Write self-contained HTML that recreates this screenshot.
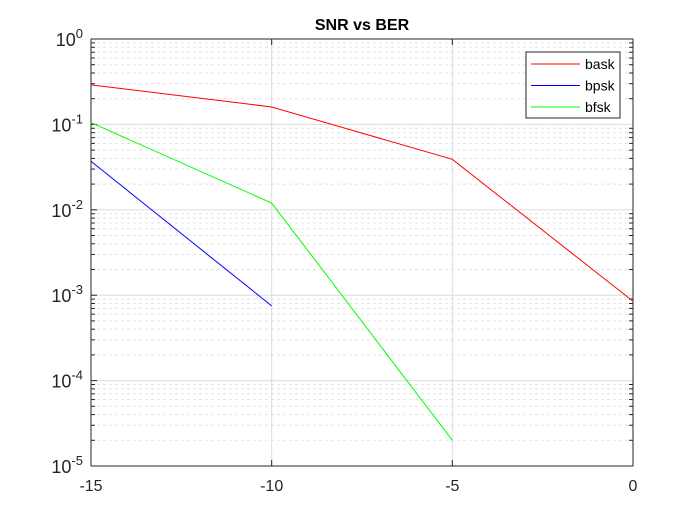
<!DOCTYPE html>
<html><head><meta charset="utf-8"><style>
body{margin:0;background:#fff;width:700px;height:525px;overflow:hidden}
svg text{font-family:"Liberation Sans",sans-serif}
</style></head><body>
<svg id="c" width="700" height="525">
<rect x="0" y="0" width="700" height="525" fill="#fff"/>
</svg>
<script>
const xs=[-15,-10,-5,0];
const bask=[0.29,0.16,0.039,0.00085];
const bpsk=[0.037,0.00075];
const bfsk=[0.105,0.012,0.00002];
const xTicks=[-15,-10,-5,0];
const yExps=[0,-1,-2,-3,-4,-5];
const seriesNames=['bask','bpsk','bfsk'];
const L=91,R=633,T=39,B=466;
const X=v=>L+(v+15)/15*(R-L);
const Y=v=>T+(-Math.log10(v))/5*(B-T);
const svg=document.getElementById('c');
const NS='http://www.w3.org/2000/svg';
function mk(t,a,p){const e=document.createElementNS(NS,t);for(const k in a)e.setAttribute(k,a[k]);(p||svg).appendChild(e);return e;}
const plot=mk('rect',{x:L,y:T,width:R-L,height:B-T,fill:'#fff'});


const grid=mk('g',{});


for(let e=0;e>-5;e--){for(let m=2;m<=9;m++){const y=Y(m*Math.pow(10,e-1));mk('line',{x1:L,x2:R,y1:y,y2:y,stroke:'#e3e3e3','stroke-dasharray':'3,3','stroke-width':1},grid);mk('line',{x1:L,x2:L+4,y1:y,y2:y,stroke:'#262626'},grid);mk('line',{x1:R,x2:R-4,y1:y,y2:y,stroke:'#262626'},grid);}}
yExps.forEach(e=>{const y=Y(Math.pow(10,e));mk('line',{x1:L,x2:R,y1:y,y2:y,stroke:'#dcdcdc'},grid);mk('line',{x1:L,x2:L+6,y1:y,y2:y,stroke:'#262626'},grid);
const t=mk('text',{x:L-8,y:y+7,'text-anchor':'end','font-size':18,fill:'#262626'});
t.innerHTML='10<tspan dy="-8" font-size="13">'+e+'</tspan>';});
xTicks.forEach(v=>{const x=X(v);mk('line',{x1:x,x2:x,y1:T,y2:B,stroke:'#dcdcdc'},grid);mk('line',{x1:x,x2:x,y1:B,y2:B-6,stroke:'#262626'},grid);mk('line',{x1:x,x2:x,y1:T,y2:T+6,stroke:'#262626'},grid);
const t=mk('text',{x:x,y:B+25,'text-anchor':'middle','font-size':16,fill:'#262626'});t.textContent=v;});
const box=mk('rect',{x:L,y:T,width:R-L,height:B-T,fill:'none',stroke:'#262626','stroke-width':1});

const cols=['#ff0000','#0000ff','#00ff00'];
[bask,bpsk,bfsk].forEach((s,i)=>{const p=mk('polyline',{points:s.map((v,j)=>X(xs[j])+','+Y(v)).join(' '),fill:'none',stroke:cols[i],'stroke-width':1});
});
const tt=mk('text',{x:(L+R)/2,y:30,'text-anchor':'middle','font-size':16,'font-weight':'bold',fill:'#000'});
tt.textContent='SNR vs BER';
const lg=mk('g',{});
mk('rect',{x:526,y:52,width:94,height:66,fill:'#fff',stroke:'#262626'},lg);
seriesNames.forEach((n,i)=>{const y=64+i*21.5;mk('line',{x1:531,x2:580,y1:y,y2:y,stroke:cols[i]},lg);
const t=mk('text',{x:585,y:y+5,'font-size':14,fill:'#000'},lg);t.textContent=n;});
</script>
</body></html>
